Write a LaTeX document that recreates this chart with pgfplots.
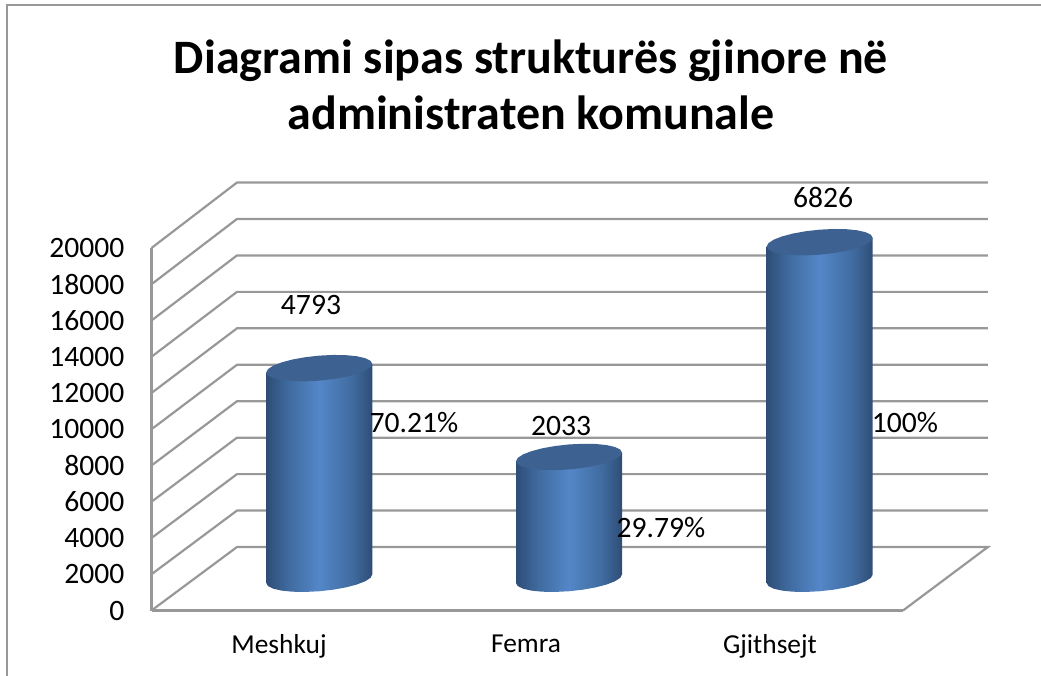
\documentclass[border=0pt]{standalone}
\usepackage{fontspec}
\setmainfont{Carlito}
\usepackage{pgfplots}
\usepackage{pgfplotstable}
\pgfplotsset{compat=1.18}

\definecolor{wallgray}{HTML}{989898}
\definecolor{cyltop}{HTML}{3D6291}
\definecolor{cyledge}{HTML}{2E4D76}
\definecolor{cylmid}{HTML}{3F6A9E}
\definecolor{cyllight}{HTML}{5487C8}

\pgfdeclarehorizontalshading{cyl}{100bp}{
  color(0bp)=(cyledge); color(25bp)=(cyledge); color(35bp)=(cylmid);
  color(50bp)=(cyllight); color(66bp)=(cylmid); color(75bp)=(cyledge); color(100bp)=(cyledge)}

% tilted ellipse of a cylinder end, offsets from its centre
\pgfplotstableread{
dx dy
 0.2116 237
 0.2044 408
 0.1833 550
 0.1496 656
 0.1058 716
 0.0548 727
 0.0000 690
-0.0548 605
-0.1058 479
-0.1496 320
-0.1833 140
-0.2044 -50
-0.2116 -237
-0.2044 -408
-0.1833 -550
-0.1496 -656
-0.1058 -716
-0.0548 -727
 0.0000 -690
 0.0548 -605
 0.1058 -479
 0.1496 -320
 0.1833 -140
 0.2044 50
 0.2116 237
}\ellipsetable

% cylinder side: front of the bottom ellipse, then up to the top (h=1)
\pgfplotstableread{
dx dy h
-0.2116 -237 0
-0.2044 -408 0
-0.1833 -550 0
-0.1496 -656 0
-0.1058 -716 0
-0.0548 -727 0
 0.0000 -690 0
 0.0548 -605 0
 0.1058 -479 0
 0.1496 -320 0
 0.1833 -140 0
 0.2044 50 0
 0.2116 237 0
 0.2116 237 1
-0.2116 -237 1
}\sidetable

\newcommand{\cylinder}[2]{
  \addplot[draw=none,shading=cyl] table[x expr=\thisrow{dx}+#1,y expr=1752+\thisrow{dy}+\thisrow{h}*#2] {\sidetable} -- cycle;
  \addplot[draw=none,fill=cyltop] table[x expr=\thisrow{dx}+#1,y expr=1752+#2+\thisrow{dy}] {\ellipsetable} -- cycle;
}

\begin{document}
\begin{tikzpicture}
\path[use as bounding box] (0,0) rectangle (520.5pt,338pt);
\draw[wallgray,line width=1pt] (3.25pt,0pt) -- (3.25pt,335.25pt) -- (520.5pt,335.25pt);
\node[font=\bfseries\fontsize{24}{28}\selectfont,align=center,text=black] at (265.5pt,295.5pt)
  {Diagrami sipas strukturës gjinore në\\administraten komunale};
\begin{axis}[
    at={(75.75pt,32.75pt)},anchor=south west,
    scale only axis,
    width=375.75pt,height=181.25pt,
    xmin=-0.5,xmax=2.5,ymin=0,ymax=20000,
    clip=false,
    axis lines*=left,
    axis line style={wallgray,line width=1.1pt,-},
    major tick length=0pt,
    xtick={0.009,0.995,1.969},
    xticklabels={Meshkuj,Femra,Gjithsejt},
    ytick={0,2000,...,20000},
    scaled y ticks=false,
    tick label style={font=\fontsize{14.8}{16}\selectfont},
    xticklabel style={font=\fontsize{13.7}{15}\selectfont,yshift=-8.5pt},
    yticklabel style={xshift=-10pt},
    /pgf/number format/assume math mode=true,
    /pgf/number format/set thousands separator={},
]
% side wall, back wall and floor lines
\addplot[wallgray,line width=1.1pt] coordinates {(-0.5,0) (-0.1587,3503) (2.839,3503) (2.5,0)};
\addplot[wallgray,line width=1.1pt] coordinates {(-0.5,2000) (-0.1587,5514) (2.839,5514)};
\addplot[wallgray,line width=1.1pt] coordinates {(-0.5,4000) (-0.1587,7525) (2.839,7525)};
\addplot[wallgray,line width=1.1pt] coordinates {(-0.5,6000) (-0.1587,9536) (2.839,9536)};
\addplot[wallgray,line width=1.1pt] coordinates {(-0.5,8000) (-0.1587,11547) (2.839,11547)};
\addplot[wallgray,line width=1.1pt] coordinates {(-0.5,10000) (-0.1587,13558) (2.839,13558)};
\addplot[wallgray,line width=1.1pt] coordinates {(-0.5,12000) (-0.1587,15569) (2.839,15569)};
\addplot[wallgray,line width=1.1pt] coordinates {(-0.5,14000) (-0.1587,17580) (2.839,17580)};
\addplot[wallgray,line width=1.1pt] coordinates {(-0.5,16000) (-0.1587,19591) (2.839,19591)};
\addplot[wallgray,line width=1.1pt] coordinates {(-0.5,18000) (-0.1587,21602) (2.839,21602)};
\addplot[wallgray,line width=1.1pt] coordinates {(-0.5,20000) (-0.1587,23613) (2.839,23613)};
% cylinders: x position, height
\cylinder{0.1697}{11620}
\cylinder{1.1667}{6720}
\cylinder{2.1675}{18570}
% data labels
\node[font=\fontsize{14.8}{16}\selectfont] at (axis cs:0.1367,16854) {4793};
\node[font=\fontsize{14.8}{16}\selectfont] at (axis cs:0.548,10344) {70.21\%};
\node[font=\fontsize{14.8}{16}\selectfont] at (axis cs:1.135,10179) {2033};
\node[font=\fontsize{14.8}{16}\selectfont] at (axis cs:1.534,4551) {29.79\%};
\node[font=\fontsize{14.8}{16}\selectfont] at (axis cs:2.181,22813) {6826};
\node[font=\fontsize{14.8}{16}\selectfont] at (axis cs:2.508,10344) {100\%};
\end{axis}
\end{tikzpicture}
\end{document}
